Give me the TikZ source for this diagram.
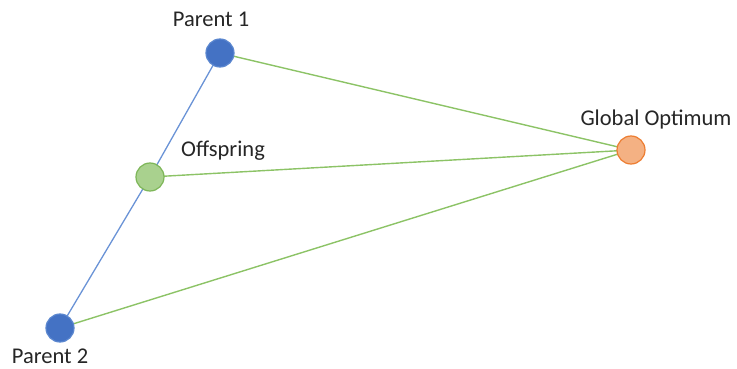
\documentclass[tikz,border=0pt]{standalone}
\usepackage{fontspec}
\setmainfont{Carlito}
\definecolor{bluefill}{HTML}{4472C4}
\definecolor{blueedge}{HTML}{5A86CF}
\definecolor{blueline}{HTML}{6A93D6}
\definecolor{greenfill}{HTML}{A9D18E}
\definecolor{greenedge}{HTML}{7DB658}
\definecolor{greenline}{HTML}{8CC366}
\definecolor{orangefill}{HTML}{F4B183}
\definecolor{orangeedge}{HTML}{ED7D31}
\definecolor{textgray}{HTML}{262626}
\begin{document}
\begin{tikzpicture}[x=1pt,y=-1pt,
  dot/.style={circle,minimum size=28pt,inner sep=0pt,line width=1.2pt},
  bluedot/.style={dot,fill=bluefill,draw=blueedge},
  greendot/.style={dot,fill=greenfill,draw=greenedge},
  orangedot/.style={dot,fill=orangefill,draw=orangeedge},
  lbl/.style={anchor=base,text=textgray,font=\fontsize{22.5}{27}\selectfont,inner sep=0pt},
  bl/.style={draw=blueline,line width=1.3pt},
  gl/.style={draw=greenline,line width=1.4pt}]
\useasboundingbox (0,0) rectangle (737,369);
\coordinate (p1c) at (220,53);
\coordinate (offc) at (150,177);
\coordinate (p2c) at (60,328);
\coordinate (goc) at (631,150);
\draw[bl] (p1c) -- (offc) -- (p2c);
\draw[gl] (p1c) -- (goc);
\draw[gl] (offc) -- (goc);
\draw[gl] (p2c) -- (goc);
\node[bluedot] (p1) at (p1c) {};
\node[bluedot] (p2) at (p2c) {};
\node[greendot] (off) at (offc) {};
\node[orangedot] (go) at (goc) {};
\node[lbl] (lp1) at (211,27) {Parent 1};
\node[lbl] (loff) at (223,157) {Offspring};
\node[lbl] (lgo) at (656,125) {Global Optimum};
\node[lbl] (lp2) at (50,363) {Parent 2};
\end{tikzpicture}
\end{document}
